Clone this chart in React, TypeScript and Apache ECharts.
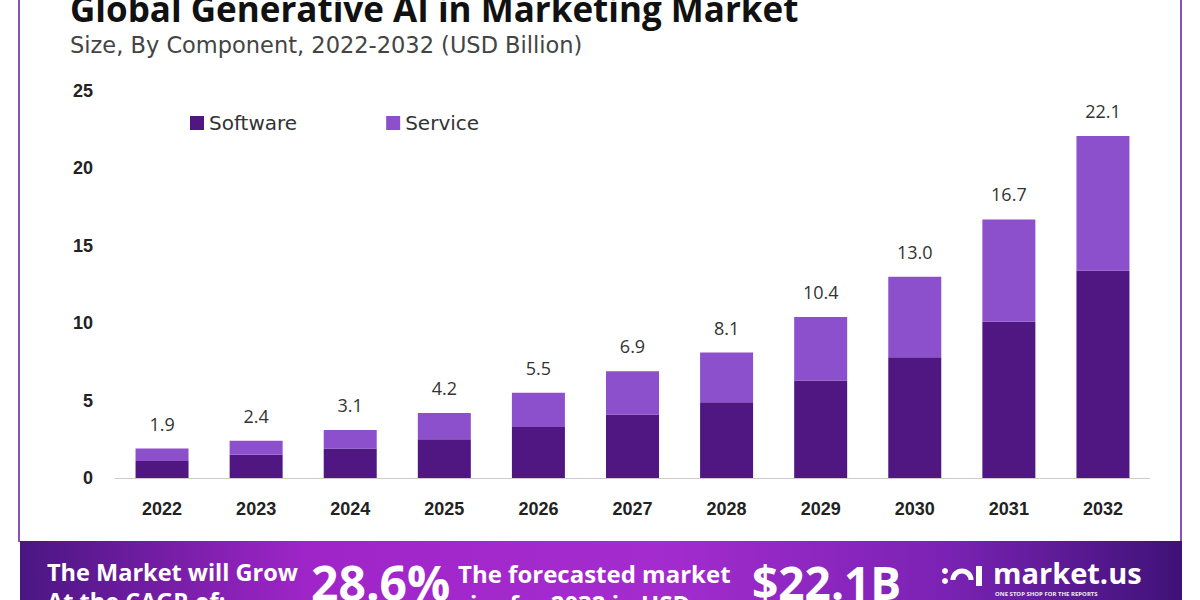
import React, { useEffect, useRef } from "react";
import * as echarts from "echarts";

const years = ["2022", "2023", "2024", "2025", "2026", "2027", "2028", "2029", "2030", "2031", "2032"];
const software = [1.1, 1.5, 1.9, 2.5, 3.3, 4.1, 4.9, 6.3, 7.8, 10.1, 13.4];
const service = [0.8, 0.9, 1.2, 1.7, 2.2, 2.8, 3.2, 4.1, 5.2, 6.6, 8.7];
const totals = ["1.9", "2.4", "3.1", "4.2", "5.5", "6.9", "8.1", "10.4", "13.0", "16.7", "22.1"];
const yTicks = [0, 5, 10, 15, 20, 25];

const DARK = "#501682";
const LIGHT = "#8c50cd";
const SANS = "'Open Sans', 'Noto Sans', sans-serif";
const WIDE = "'DejaVu Sans', 'Open Sans', sans-serif";
const BOLD = "'Liberation Sans', 'Open Sans', sans-serif";

export default function App() {
  const ref = useRef<HTMLDivElement>(null);
  useEffect(() => {
    if (!ref.current) return;
    const chart = echarts.init(ref.current, undefined, { renderer: "svg" });
    const option: any = {
      animation: false,
      backgroundColor: "#ffffff",
      grid: { left: 115, right: 50, top: 91, bottom: 122, containLabel: false },
      legend: {
        left: 185,
        top: 108,
        itemWidth: 14,
        itemHeight: 14,
        itemGap: 89,
        icon: "rect",
        textStyle: { fontSize: 20, color: "#333", fontFamily: WIDE, padding: [0, 0, 0, 0] },
        data: ["Software", "Service"],
      },
      xAxis: {
        type: "category",
        data: years,
        axisLine: { show: true, lineStyle: { color: "#cccccc", width: 1 } },
        axisTick: { show: false },
        axisLabel: { margin: 22, fontSize: 18, fontWeight: "bold", color: "#222", fontFamily: BOLD },
      },
      yAxis: {
        type: "value",
        min: yTicks[0],
        max: yTicks[yTicks.length - 1],
        interval: 5,
        splitLine: { show: false },
        axisLine: { show: false },
        axisTick: { show: false },
        axisLabel: { margin: 22, fontSize: 18, fontWeight: "bold", color: "#222", fontFamily: BOLD },
      },
      series: [
        {
          name: "Software",
          type: "bar",
          stack: "total",
          data: software,
          barWidth: 53,
          itemStyle: { color: DARK },
        },
        {
          name: "Service",
          type: "bar",
          stack: "total",
          data: service,
          barWidth: 53,
          itemStyle: { color: LIGHT },
          label: {
            show: true,
            position: "top",
            distance: 16,
            fontSize: 18,
            color: "#333",
            fontFamily: SANS,
            formatter: (p: any) => totals[p.dataIndex],
          },
        },
      ],
      graphic: [
        { type: "rect", shape: { x: 18, y: 0, width: 2, height: 542 }, style: { fill: "#8a50c2" } },
        { type: "rect", shape: { x: 1180, y: 0, width: 2, height: 542 }, style: { fill: "#8a50c2" } },
        {
          type: "text",
          x: 70,
          y: 8,
          style: {
            text: "Global Generative AI in Marketing Market",
            fontSize: 35,
            fontWeight: "bold",
            fontFamily: SANS,
            fill: "#111",
            verticalAlign: "middle",
          },
        },
        {
          type: "text",
          x: 70,
          y: 45,
          style: {
            text: "Size, By Component, 2022-2032 (USD Billion)",
            fontSize: 22.5,
            fontFamily: WIDE,
            fill: "#444",
            verticalAlign: "middle",
          },
        },
        {
          type: "rect",
          shape: { x: 20, y: 541, width: 1162, height: 59 },
          style: {
            fill: new echarts.graphic.LinearGradient(0, 0, 1, 0, [
              { offset: 0, color: "#4a1682" },
              { offset: 0.25, color: "#a025c9" },
              { offset: 0.55, color: "#a42ccf" },
              { offset: 0.8, color: "#7a22b3" },
              { offset: 1, color: "#3e1277" },
            ]),
          },
        },
        { type: "text", x: 47, y: 572, style: { text: "The Market will Grow", fontSize: 23.5, fontWeight: "bold", fontFamily: SANS, fill: "#fff", verticalAlign: "middle" } },
        { type: "text", x: 47, y: 601, style: { text: "At the CAGR of:", fontSize: 23.5, fontWeight: "bold", fontFamily: SANS, fill: "#fff", verticalAlign: "middle" } },
        { type: "text", x: 311, y: 582, style: { text: "28.6%", fontSize: 48, fontWeight: "bold", fontFamily: SANS, fill: "#fff", verticalAlign: "middle" } },
        { type: "text", x: 458, y: 573, style: { text: "The forecasted market", fontSize: 24, fontWeight: "bold", fontFamily: SANS, fill: "#fff", verticalAlign: "middle" } },
        { type: "text", x: 458, y: 603, style: { text: "size for 2032 in USD:", fontSize: 24, fontWeight: "bold", fontFamily: SANS, fill: "#fff", verticalAlign: "middle" } },
        { type: "text", x: 752, y: 582, style: { text: "$22.1B", fontSize: 46, fontWeight: "bold", fontFamily: SANS, fill: "#fff", verticalAlign: "middle" } },
        { type: "circle", shape: { cx: 945, cy: 571, r: 3 }, style: { fill: "#fff" } },
        { type: "circle", shape: { cx: 945, cy: 581, r: 3 }, style: { fill: "#fff" } },
        { type: "arc", shape: { cx: 962, cy: 580, r: 9, startAngle: Math.PI, endAngle: 0, clockwise: true }, style: { stroke: "#fff", lineWidth: 5, fill: "none" } },
        { type: "rect", shape: { x: 976, y: 566, width: 6, height: 20 }, style: { fill: "#fff" } },
        { type: "text", x: 993, y: 572, style: { text: "market.us", fontSize: 29, fontWeight: "bold", fontFamily: SANS, fill: "#fff", verticalAlign: "middle" } },
        { type: "text", x: 995, y: 594, style: { text: "ONE STOP SHOP FOR THE REPORTS", fontSize: 6, fontWeight: "bold", fontFamily: SANS, fill: "#eee", verticalAlign: "middle" } },
      ],
    };
    chart.setOption(option);
    return () => chart.dispose();
  }, []);
  return <div ref={ref} style={{ position: "fixed", left: 0, top: 0, width: 1200, height: 600 }} />;
}
